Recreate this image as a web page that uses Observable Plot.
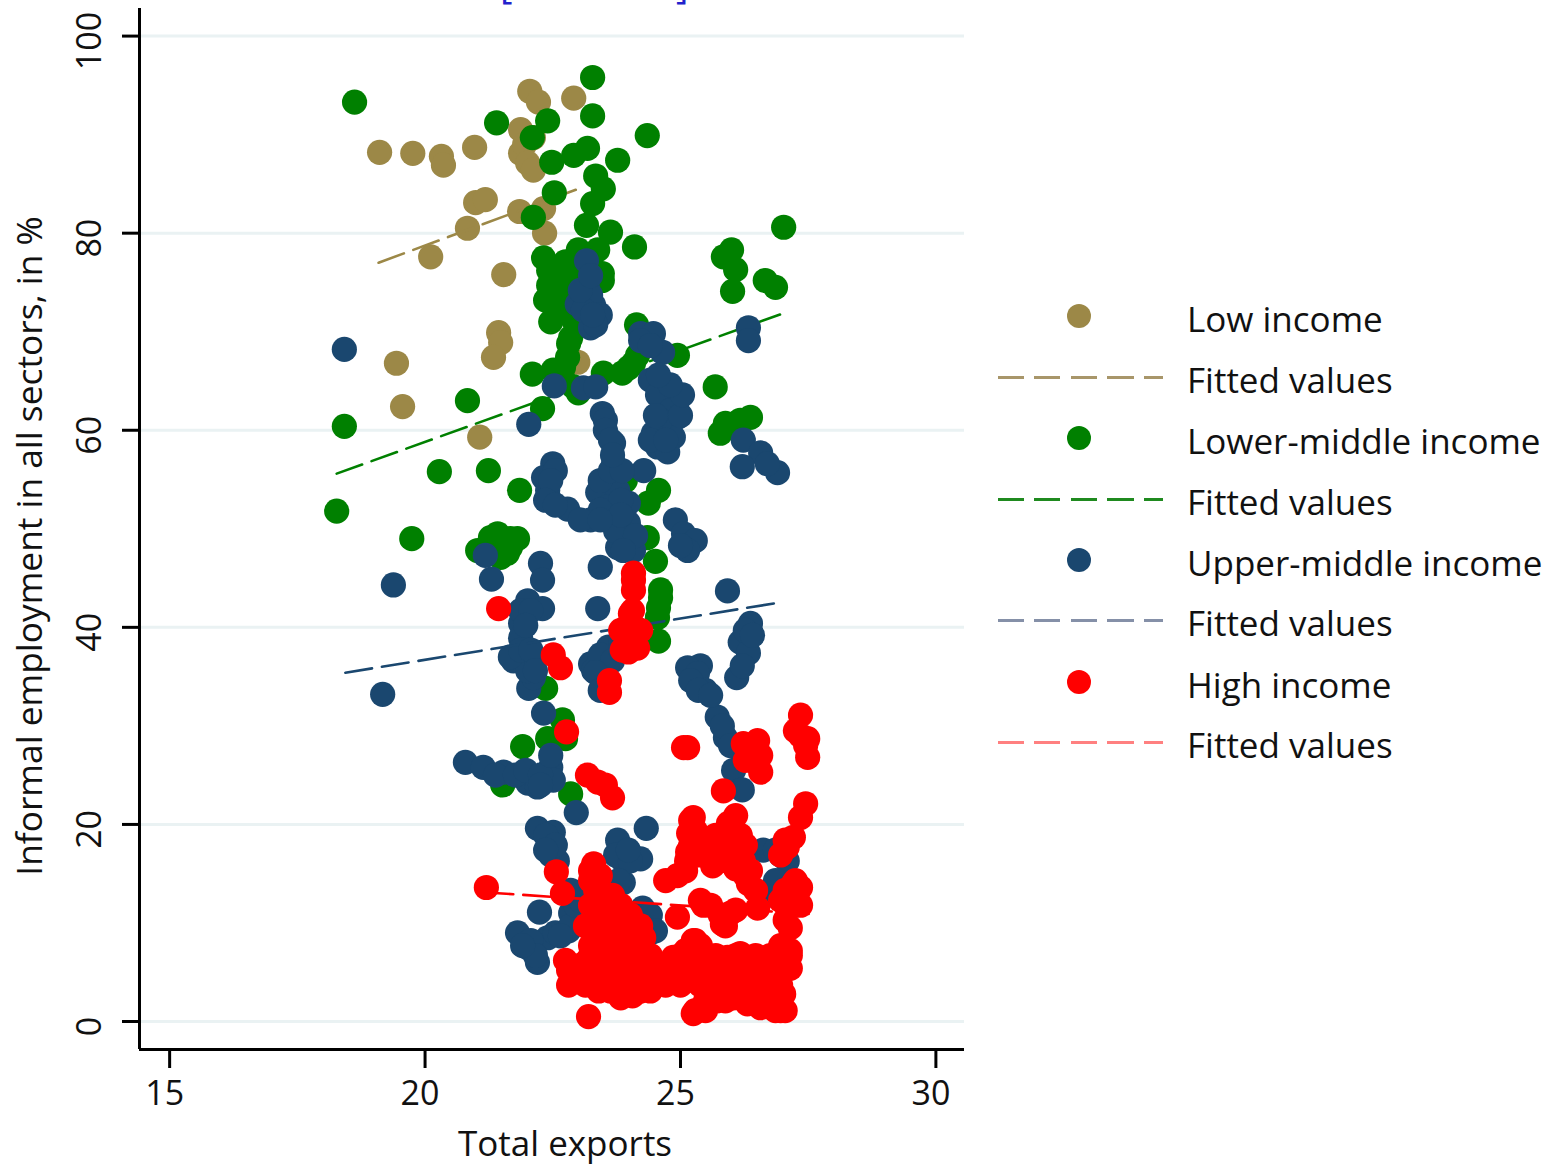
<!DOCTYPE html>
<html><head><meta charset="utf-8">
<script src="https://cdn.jsdelivr.net/npm/d3@7"></script>
<script src="https://cdn.jsdelivr.net/npm/@observablehq/plot@0.6"></script>
<style>
html,body{margin:0;padding:0;background:#fff;overflow:hidden}
#wrap{position:relative;width:1547px;height:1164px;font-family:"Open Sans","Noto Sans",sans-serif;overflow:hidden}
#wrap svg{position:absolute;left:0;top:0}
.lg{position:absolute;left:1187px;font-size:35px;line-height:40px;color:#111;white-space:nowrap}
.dot{position:absolute;left:1067px;width:24px;height:24px;border-radius:50%}
.dash{position:absolute;left:998px;width:165px;height:3px}
.ttl{position:absolute;top:-36px;font-size:38px;line-height:40px;color:#2222cc}
</style></head><body><div id="wrap"></div>
<script>
const lowIncome=[[22.05,94.4],[22.22,93.3],[22.91,93.7],[21.87,90.5],[22.12,89.7],[19.11,88.2],[19.76,88.1],[20.32,87.8],[20.36,86.9],[20.97,88.7],[21.87,88.1],[21.95,89.0],[22.01,87.1],[22.12,86.4],[20.99,83.1],[21.18,83.4],[21.85,82.2],[22.32,82.5],[22.34,80.0],[20.83,80.5],[20.11,77.6],[21.54,75.8],[21.44,69.9],[21.48,68.9],[21.34,67.4],[19.44,66.8],[19.56,62.4],[21.07,59.3],[22.99,66.9]];
const lowerMiddle=[[18.62,93.3],[23.28,95.8],[23.28,91.9],[24.35,89.9],[21.40,91.2],[22.40,91.4],[22.10,89.7],[22.48,87.2],[22.91,87.9],[23.18,88.6],[23.77,87.4],[23.34,85.8],[23.49,84.5],[23.28,83.0],[22.53,84.1],[22.12,81.6],[23.16,80.8],[23.63,80.1],[24.10,78.6],[27.02,80.6],[26.00,78.3],[25.84,77.6],[26.08,76.3],[26.02,74.1],[26.66,75.2],[26.86,74.5],[22.32,77.5],[22.42,76.2],[22.50,74.4],[22.36,73.2],[22.46,71.0],[23.00,78.3],[23.38,78.3],[22.95,76.5],[23.47,75.9],[23.47,75.2],[22.91,74.5],[22.65,73.2],[22.59,72.2],[22.91,71.2],[24.14,70.7],[22.81,68.8],[22.79,67.4],[22.71,66.4],[22.71,65.1],[22.10,65.7],[23.00,63.8],[23.49,65.8],[23.86,65.8],[24.16,67.6],[24.94,67.6],[25.68,64.4],[22.30,62.2],[20.83,63.0],[18.42,60.4],[25.78,59.7],[25.88,60.7],[26.12,60.8],[26.37,61.3],[20.28,55.8],[21.24,55.9],[21.85,53.9],[18.27,51.8],[19.74,49.0],[21.28,49.1],[21.03,47.8],[21.67,49.0],[21.61,47.5],[21.48,47.1],[24.57,53.9],[24.37,52.6],[24.35,49.1],[24.51,46.7],[24.61,43.0],[24.57,42.0],[24.55,41.0],[24.57,38.6],[23.92,54.9],[22.36,33.8],[22.69,30.6],[22.40,28.7],[22.75,28.7],[21.91,27.9],[21.52,24.0],[22.85,23.1],
[22.75,77.1],[23.24,77.1],[23.04,75.2],[22.85,73.2],[23.24,73.2],[22.42,74.7],[22.65,75.7],[23.14,71.7],[22.85,69.4],[24.08,66.8],[23.98,66.3],[22.91,64.4],[22.51,66.1],[25.98,60.3],[26.17,61.0],[21.48,48.5],[21.67,48.1],[21.42,49.5],[21.81,49.0],[24.61,43.8]];
const upperMiddle=[[23.16,77.2],[23.18,74.4],[22.98,72.8],[23.30,72.7],[23.24,70.4],[26.33,70.4],[24.22,69.8],[24.47,69.8],[18.42,68.2],[26.33,69.1],[24.65,67.9],[22.53,64.5],[23.10,64.3],[23.34,64.4],[24.41,65.1],[24.67,63.8],[24.94,63.0],[24.94,61.3],[24.75,60.3],[24.47,59.7],[24.86,59.3],[24.55,58.3],[24.75,57.8],[23.47,61.7],[23.53,61.0],[23.53,60.0],[23.69,58.7],[23.69,56.6],[23.57,55.2],[23.38,53.7],[23.77,53.9],[23.98,52.6],[23.57,52.2],[23.24,50.9],[23.63,51.1],[23.98,50.6],[24.06,49.0],[23.77,48.1],[24.08,47.8],[22.03,60.6],[22.50,56.6],[22.32,55.2],[22.40,53.9],[22.42,53.1],[22.79,52.0],[24.28,55.9],[24.90,50.9],[25.06,49.5],[25.29,48.8],[25.14,47.8],[26.23,59.0],[26.57,57.7],[26.21,56.3],[26.90,55.7],[26.70,56.6],[21.18,47.3],[22.26,46.5],[22.30,44.8],[21.30,44.9],[23.43,46.1],[19.38,44.3],[23.38,41.9],[25.92,43.7],[22.01,42.7],[22.30,41.9],[21.87,40.4],[21.87,38.9],[21.73,36.6],[22.12,36.3],[26.37,40.4],[26.17,38.5],[26.33,37.4],[23.59,38.0],[23.24,36.3],[25.39,36.1],[25.14,35.9],[19.17,33.2],[22.03,33.8],[22.12,34.9],[22.01,35.6],[23.49,34.6],[23.30,35.6],[25.33,35.3],[25.49,33.6],[26.10,34.9],[25.72,30.9],[25.88,28.8],[22.32,31.3],[20.79,26.3],[21.14,25.8],[21.54,25.3],[22.01,24.2],[22.20,23.8],[22.46,25.8],[22.51,24.5],[26.04,25.5],[26.21,23.5],[22.96,21.2],[22.20,19.6],[22.51,19.2],[22.46,16.9],[22.59,16.3],[23.77,18.4],[24.33,19.6],[24.22,16.5],[23.88,16.3],[23.88,14.1],[26.62,17.4],[27.09,16.3],[27.09,14.6],[26.82,12.8],[22.24,11.1],[22.85,11.0],[22.81,9.2],[22.40,8.5],[21.81,9.0],[22.01,7.5],[22.20,6.0],[24.26,11.5],[24.41,9.0],[22.85,13.3],
[24.55,63.6],[24.80,62.0],[24.61,61.0],[24.41,59.0],[24.71,59.0],[25.0,61.5],[24.51,61.5],[25.04,63.6],[24.80,64.6],[24.57,65.6],[23.43,54.9],[23.63,55.9],[23.83,52.9],[23.43,51.9],[23.73,49.8],[23.04,50.9],[23.83,51.4],[23.43,50.9],[23.86,55.9],[24.12,49.3],[23.88,47.8],[22.55,55.9],[22.46,54.9],[22.36,52.9],[22.55,52.4],[23.63,59.0],[23.67,57.5],[25.0,48.3],[23.24,73.7],[23.10,72.2],[23.43,71.7],[23.34,70.7],[23.28,71.7],[23.04,74.2],[23.24,75.7],[24.22,69.1],[24.41,68.6],[21.87,41.7],[22.07,41.7],[21.97,40.2],[21.67,37.0],[21.87,37.7],[22.07,37.7],[22.16,35.6],[23.43,37.2],[23.67,36.6],[23.83,38.7],[23.34,35.4],[23.43,33.6],[23.83,37.7],[26.27,39.7],[26.21,36.1],[26.41,39.2],[25.2,34.6],[25.35,33.6],[25.59,33.1],[25.82,30.0],[25.98,28.0],[21.38,25.0],[21.77,25.0],[21.97,25.5],[22.26,25.0],[22.46,27.0],[22.26,24.0],[22.36,18.9],[22.55,17.9],[22.36,17.4],[23.73,16.9],[24.02,16.3],[23.98,17.4],[23.79,14.3],[26.86,17.4],[26.96,16.9],[26.86,14.3],[22.07,8.2],[22.55,9.0],[22.85,9.7],[22.95,11.8],[22.16,6.7],[21.91,7.7],[22.65,8.7],[23.04,12.3],[24.41,10.8],[24.51,9.2]];
const highIncome=[[21.44,41.9],[24.08,45.5],[24.08,43.8],[24.02,41.4],[23.92,39.9],[24.22,39.7],[24.08,38.9],[23.98,37.5],[22.51,37.2],[22.65,35.9],[23.61,34.6],[23.61,33.4],[22.77,29.4],[25.14,27.8],[23.18,25.0],[23.53,24.0],[23.67,22.7],[27.35,31.1],[27.25,29.5],[27.49,28.7],[27.49,26.8],[26.23,28.2],[26.51,28.5],[26.51,26.5],[26.57,25.3],[25.84,23.4],[27.45,22.1],[27.35,20.7],[27.09,17.7],[27.21,18.7],[25.25,20.7],[25.16,19.1],[25.14,17.2],[24.94,14.8],[25.94,20.1],[25.88,18.4],[25.78,16.3],[26.23,16.3],[26.33,14.0],[26.51,11.5],[27.21,14.0],[27.09,11.6],[27.15,9.5],[27.35,13.6],[23.30,16.0],[23.24,14.3],[23.49,13.0],[23.38,11.3],[23.69,10.6],[23.96,9.9],[24.28,8.5],[23.30,8.9],[23.69,7.9],[22.57,15.2],[22.69,13.0],[24.94,10.6],[25.45,11.8],[25.98,11.0],[25.82,9.9],[22.81,5.2],[23.18,6.2],[22.81,3.7],[23.40,3.1],[23.83,2.4],[24.22,3.1],[24.47,4.2],[23.83,6.2],[24.22,6.2],[24.47,5.9],[23.69,4.5],[24.86,6.5],[25.25,8.2],[24.86,4.5],[25.20,4.2],[25.53,6.2],[25.92,6.5],[26.17,6.9],[25.65,4.2],[25.72,2.1],[25.25,0.8],[25.45,1.4],[23.20,0.5],[26.17,4.2],[26.31,1.8],[26.70,6.5],[27.09,6.9],[27.15,5.4],[26.76,4.2],[26.96,1.1],[26.70,2.1],[27.02,2.8],[26.57,1.4],[26.04,2.4],[26.43,5.5],[25.78,5.2],[25.0,5.9],[23.63,9.2],[23.43,7.2],[24.02,7.7],[21.20,13.6],
[24.06,41.7],[23.83,39.7],[24.02,38.2],[23.86,37.7],[24.16,37.9],[24.08,44.8],[25.06,27.8],[26.37,28.0],[26.37,27.0],[26.57,27.0],[26.27,26.5],[27.35,29.0],[27.45,28.0],[23.38,24.3],[25.29,19.4],[25.2,17.9],[25.39,16.9],[25.59,17.4],[25.69,18.9],[26.08,20.9],[26.17,18.9],[25.98,17.4],[26.27,17.9],[25.63,15.8],[25.1,15.3],[25.39,18.4],[26.08,15.5],[26.37,15.3],[26.47,13.3],[26.27,14.8],[25.2,20.4],[25.12,16.3],[24.71,14.3],[27.05,13.3],[27.25,12.8],[27.35,11.8],[26.96,12.3],[27.05,10.3],[27.25,14.3],[27.15,11.8],[27.05,18.4],[26.96,16.9],[25.59,11.8],[25.78,10.8],[25.88,9.7],[26.08,11.3],[25.39,12.3],[23.24,15.3],[23.43,14.8],[23.34,13.3],[23.67,12.8],[23.53,11.8],[23.24,11.8],[23.83,11.8],[23.43,10.3],[23.73,9.2],[24.02,10.8],[23.14,9.7],[24.22,9.7],[23.43,8.7],[23.92,8.7],[23.24,7.7],[23.63,7.2],[23.92,6.7],[24.22,7.7],[24.41,6.7],[23.43,4.7],[24.02,4.7],[24.31,4.7],[24.61,4.7],[23.14,3.7],[23.63,3.7],[23.92,3.7],[24.41,3.7],[24.71,3.7],[23.43,5.7],[23.73,5.7],[24.02,5.7],[24.8,5.7],[22.95,4.7],[23.04,5.7],[22.75,6.2],[23.24,4.2],[23.83,3.1],[24.06,2.6],[23.63,3.1],[24.41,3.1],[25.0,6.7],[25.39,6.7],[25.69,6.7],[26.08,6.7],[26.47,6.7],[26.76,6.7],[26.96,6.7],[27.15,6.7],[25.2,5.2],[25.49,5.2],[25.98,5.2],[26.27,5.2],[26.57,5.2],[26.96,5.2],[25.0,3.7],[25.39,3.7],[25.78,3.7],[26.08,3.7],[26.37,3.7],[26.66,3.7],[26.96,3.7],[25.29,8.2],[25.39,7.7],[25.1,7.2],[26.96,7.7],[27.15,7.2],[25.49,2.1],[25.88,2.1],[26.27,2.1],[26.47,2.1],[26.86,2.1],[25.29,1.1],[25.49,1.1],[26.86,1.1],[27.05,1.1]];
const lowFit=[[19.09,77.0],[22.95,84.4]];
const lowerFit=[[18.27,55.6],[27.03,71.9]];
const upperFit=[[18.44,35.4],[26.92,42.5]];
const highFit=[[21.2,13.1],[27.54,10.9]];
const colors={low:"#9c8847",lower:"#008000",upper:"#1a476f",high:"#ff0000"};
const xTicks=[15,20,25,30], yTicks=[0,20,40,60,80,100];
const xDomain=[14.41,30.56], yDomain=[-2.84,102.8];
const legendRows=[["Low income","dot",colors.low],["Fitted values","dash","#a8966a"],["Lower-middle income","dot",colors.lower],["Fitted values","dash","#1f8a1f"],["Upper-middle income","dot",colors.upper],["Fitted values","dash","#8590a8"],["High income","dot",colors.high],["Fitted values","dash","#ff8080"]];
const F="'Open Sans','Noto Sans',sans-serif", FS=34;
const xf=d=>d[0], yf=d=>d[1];
const dots=(a,c)=>Plot.dot(a,{x:xf,y:yf,r:12.6,fill:c,stroke:"none"});
const fit=(a,c)=>Plot.line(a,{x:xf,y:yf,stroke:c,strokeWidth:2.6,strokeDasharray:"27,10"});
const svg=Plot.plot({
  width:1547,height:1164,marginLeft:139,marginRight:583,marginTop:8,marginBottom:115,
  style:{background:"transparent",fontFamily:F,color:"#111"},
  x:{domain:xDomain,label:null},y:{domain:yDomain,label:null},
  marks:[
    Plot.gridY(yTicks,{stroke:"#eaf2f3",strokeOpacity:1,strokeWidth:3}),
    dots(lowIncome,colors.low),fit(lowFit,colors.low),
    dots(lowerMiddle,colors.lower),fit(lowerFit,colors.lower),
    dots(upperMiddle,colors.upper),fit(upperFit,colors.upper),
    dots(highIncome,colors.high),fit(highFit,colors.high),
    Plot.ruleX([xDomain[0]],{stroke:"#000",strokeWidth:3}),
    Plot.ruleY([yDomain[0]],{stroke:"#000",strokeWidth:3}),
    Plot.axisX({ticks:xTicks,tickSize:19,tickPadding:10,strokeWidth:3,stroke:"#000",label:null,tickFormat:()=>""}),
    Plot.axisX({ticks:xTicks,tickSize:19,tickPadding:12,fontSize:FS,stroke:"none",dx:-5,label:null,tickFormat:d=>d}),
    Plot.axisY({ticks:yTicks,tickSize:17,tickPadding:17,strokeWidth:3,stroke:"#000",label:null,tickFormat:()=>""}),
    Plot.axisY({ticks:yTicks,tickSize:17,tickPadding:22,fontSize:FS,stroke:"none",tickRotate:-90,dy:5,label:null,tickFormat:d=>d}),
    Plot.text(["Total exports"],{frameAnchor:"bottom",dy:106,dx:13,fontSize:35,fill:"#111"}),
    Plot.text(["Informal employment in all sectors, in %"],{frameAnchor:"left",textAnchor:"middle",rotate:-90,dx:-109,dy:17,fontSize:35.3,fill:"#111"})
  ]
});
const wrap=document.getElementById("wrap");
wrap.appendChild(svg);
legendRows.forEach((r,i)=>{
  const cy=[316,377,438,499,560,620,682,742][i];
  const t=document.createElement("div");t.className="lg";t.textContent=r[0];t.style.top=(cy-17)+"px";wrap.appendChild(t);
  const s=document.createElement("div");s.className=r[1];
  if(r[1]==="dot"){s.style.top=(cy-12)+"px";s.style.background=r[2];}
  else{s.style.top=(cy-1)+"px";s.style.background=`repeating-linear-gradient(to right,${r[2]} 0 26px,transparent 26px 36.5px)`;}
  wrap.appendChild(s);
});
[["[",500],["]",676]].forEach(([c,l])=>{const d=document.createElement("div");d.className="ttl";d.textContent=c;d.style.left=l+"px";wrap.appendChild(d);});
</script></body></html>
